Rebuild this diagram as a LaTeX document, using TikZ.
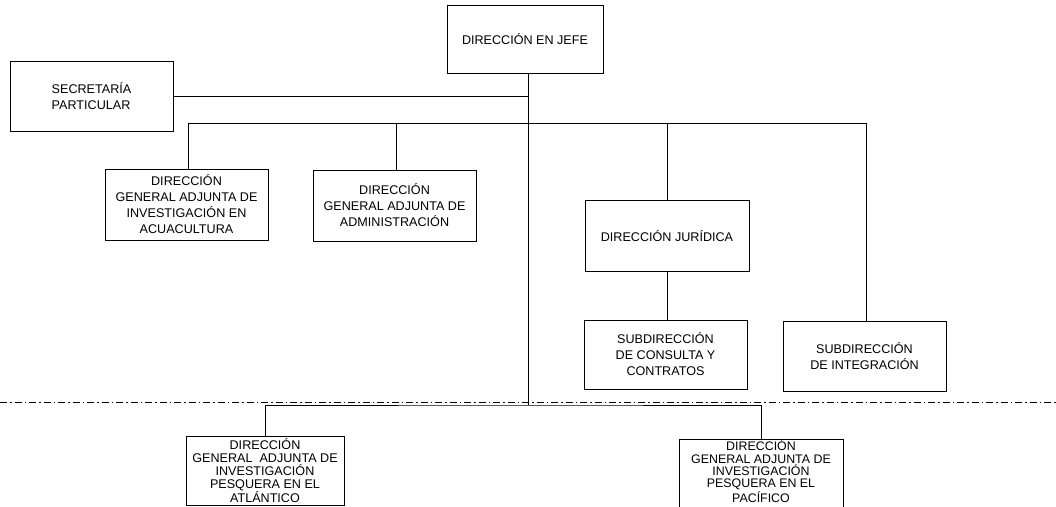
\documentclass[tikz,border=0pt]{standalone}
\usepackage{fontspec}
\setmainfont{Liberation Sans}
\begin{document}
\begin{tikzpicture}[x=1pt,y=-1pt,
  line width=1pt,
  box/.style={draw, line width=1pt, inner sep=2pt, align=center,
    font=\fontsize{12.6}{16}\selectfont},
  tight/.style={font=\fontsize{12.6}{13}\selectfont},
  tighter/.style={font=\fontsize{12.4}{12.4}\selectfont},
  conn/.style={draw, line width=1pt},
  dashdotline/.style={draw, line width=0.8pt, dash pattern=on 7pt off 3pt on 1.5pt off 3pt}]
\useasboundingbox (0,0) rectangle (1056,506);
\node[box, minimum width=156, minimum height=68] (jefe) at (525,39) {DIRECCIÓN EN JEFE};
\node[box, minimum width=163, minimum height=70, align=left] (sec) at (91.5,96) {SECRETARÍA\\PARTICULAR};
\node[box, minimum width=163, minimum height=71] (acu) at (186.5,204.5) {DIRECCIÓN\\GENERAL ADJUNTA DE\\INVESTIGACIÓN EN\\ACUACULTURA};
\node[box, minimum width=163, minimum height=71] (adm) at (394.5,205.5) {DIRECCIÓN\\GENERAL ADJUNTA DE\\ADMINISTRACIÓN};
\node[box, minimum width=164, minimum height=71] (jur) at (667,236) {DIRECCIÓN JURÍDICA};
\node[box, minimum width=163, minimum height=69] (con) at (665.5,354.5) {SUBDIRECCIÓN\\DE CONSULTA Y\\CONTRATOS};
\node[box, minimum width=163, minimum height=70] (int) at (864.5,356) {SUBDIRECCIÓN\\DE INTEGRACIÓN};
\node[box, tight, minimum width=158, minimum height=69] (atl) at (265,470.5) {DIRECCIÓN\\GENERAL\ \ ADJUNTA DE\\INVESTIGACIÓN\\PESQUERA EN EL\\ATLÁNTICO};
\node[box, minimum width=164, minimum height=75, anchor=north] (pac) at (761,439) {};
\node[tighter, align=center, inner sep=0pt, anchor=north] (paclbl) at ([yshift=-0.5pt]pac.north) {DIRECCIÓN\\GENERAL ADJUNTA DE\\INVESTIGACIÓN\\PESQUERA EN EL\\PACÍFICO};
\coordinate (tk) at (528,405);
\coordinate (bus) at (0,123);
\coordinate (dl) at (0,402);
\coordinate (dr) at (1056,402);
% trunk
\draw[conn] (jefe.south -| tk) -- (tk);
\draw[conn] (sec.east) -- (sec.east -| tk);
% upper bus
\draw[conn] (acu.north -| 188,0) |- (bus -| 866,0) -- (int.north -| 866,0);
\draw[conn] (adm.north -| 396,0) -- (bus -| 396,0);
\draw[conn] (jur.north) -- (jur.north |- bus);
\draw[conn] (jur.south) -- (jur.south |- con.north);
% dash-dot separator
\draw[dashdotline] (dl) -- (dr);
% lower bus
\draw[conn] (atl.north) |- (tk) -| (pac.north);
\end{tikzpicture}
\end{document}
